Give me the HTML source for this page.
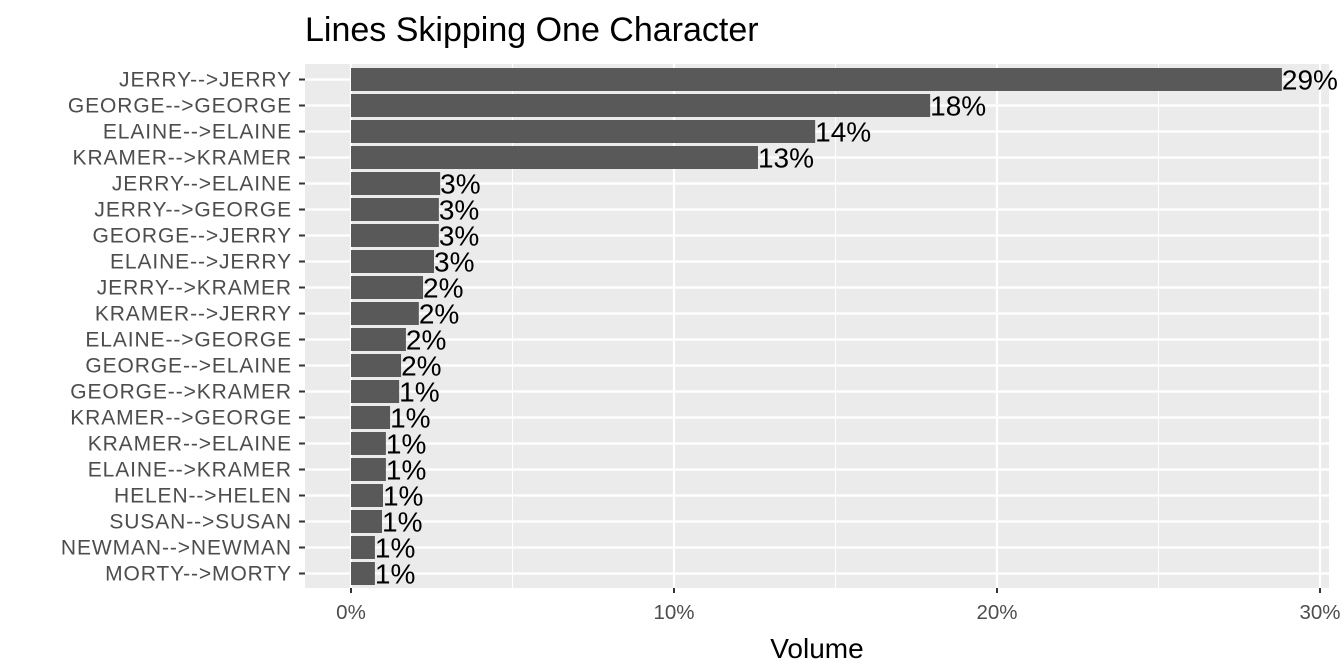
<!DOCTYPE html>
<html><head><meta charset="utf-8"><style>
body{margin:0;background:#fff;}
svg{display:block;font-family:"Liberation Sans",sans-serif;}
</style></head><body>
<svg id="c" width="1344" height="672">
<text x="305" y="41" font-size="34" fill="#000">Lines Skipping One Character</text>
<rect x="305" y="64" width="1024" height="524" fill="#ebebeb"/>
<g id="grid"></g><g id="bars"></g><g id="labels"></g><g id="axes"></g>
<text x="817" y="658" font-size="28" text-anchor="middle" fill="#000">Volume</text>
</svg>
<script>
const categories=["JERRY-->JERRY","GEORGE-->GEORGE","ELAINE-->ELAINE","KRAMER-->KRAMER","JERRY-->ELAINE","JERRY-->GEORGE","GEORGE-->JERRY","ELAINE-->JERRY","JERRY-->KRAMER","KRAMER-->JERRY","ELAINE-->GEORGE","GEORGE-->ELAINE","GEORGE-->KRAMER","KRAMER-->GEORGE","KRAMER-->ELAINE","ELAINE-->KRAMER","HELEN-->HELEN","SUSAN-->SUSAN","NEWMAN-->NEWMAN","MORTY-->MORTY"];
const values=[28.82,17.93,14.37,12.6,2.76,2.72,2.72,2.57,2.23,2.1,1.7,1.55,1.49,1.21,1.08,1.08,0.99,0.96,0.74,0.74];
const valueLabels=["29%","18%","14%","13%","3%","3%","3%","3%","2%","2%","2%","2%","1%","1%","1%","1%","1%","1%","1%","1%"];
const xTicks=[0,10,20,30];
const xTickLabels=["0%","10%","20%","30%"];
const xMinor=[5,15,25];
const NS="http://www.w3.org/2000/svg";
const x=v=>351+v*32.3;
const y=i=>79.5+i*26;
function mk(p,t,a){const e=document.createElementNS(NS,t);for(const k in a)e.setAttribute(k,a[k]);p.appendChild(e);return e;}
const grid=document.getElementById('grid'),bars=document.getElementById('bars'),labels=document.getElementById('labels'),axes=document.getElementById('axes');
xMinor.forEach(v=>{const l=mk(grid,'line',{x1:x(v),x2:x(v),y1:64,y2:588,stroke:'#fff','stroke-width':1});

});
xTicks.forEach((v,i)=>{const l=mk(grid,'line',{x1:x(v),x2:x(v),y1:64,y2:588,stroke:'#fff','stroke-width':2.2});


const t=mk(axes,'line',{x1:x(v),x2:x(v),y1:588,y2:593,stroke:'#333','stroke-width':2});


const tx=mk(axes,'text',{x:x(v),y:619,'font-size':20.5,'text-anchor':'middle',fill:'#4d4d4d'});tx.textContent=xTickLabels[i];

});
categories.forEach((c,i)=>{
const g=mk(grid,'line',{x1:305,x2:1329,y1:y(i),y2:y(i),stroke:'#fff','stroke-width':2.2});


const b=mk(bars,'rect',{x:x(0),y:y(i)-11.5,width:x(values[i])-x(0),height:23,fill:'#595959'});


const lb=mk(labels,'text',{x:x(values[i]),y:y(i)+10,'font-size':28,fill:'#000'});lb.textContent=valueLabels[i];


const tk=mk(axes,'line',{x1:299,x2:305,y1:y(i),y2:y(i),stroke:'#333','stroke-width':2});


const t=mk(axes,'text',{x:292,y:y(i)+7,'font-size':21,'letter-spacing':'0.9','text-anchor':'end',fill:'#4d4d4d'});t.textContent=c;

});
</script>
</body></html>
